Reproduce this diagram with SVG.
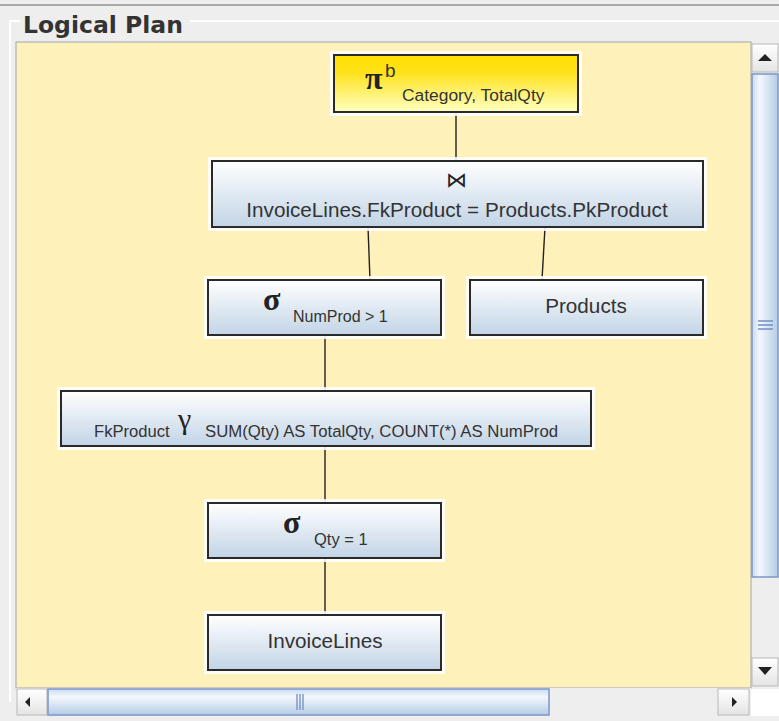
<svg xmlns="http://www.w3.org/2000/svg" width="779" height="721" viewBox="0 0 779 721">
<defs>
<linearGradient id="gBlue" x1="0" y1="0" x2="0" y2="1">
<stop offset="0" stop-color="#ffffff"/>
<stop offset="1" stop-color="#c2d4e6"/>
</linearGradient>
<linearGradient id="gYel" x1="0" y1="0" x2="0" y2="1">
<stop offset="0" stop-color="#ffe100"/>
<stop offset="0.3" stop-color="#ffe21a"/>
<stop offset="1" stop-color="#ffffc4"/>
</linearGradient>
<linearGradient id="gVThumb" x1="0" y1="0" x2="1" y2="0">
<stop offset="0" stop-color="#c8daf0"/>
<stop offset="0.3" stop-color="#f4f8fc"/>
<stop offset="1" stop-color="#b4cce6"/>
</linearGradient>
<linearGradient id="gHThumb" x1="0" y1="0" x2="0" y2="1">
<stop offset="0" stop-color="#c8daf0"/>
<stop offset="0.3" stop-color="#f4f8fc"/>
<stop offset="1" stop-color="#b4cce6"/>
</linearGradient>
<linearGradient id="gBtn" x1="0" y1="0" x2="0" y2="1">
<stop offset="0" stop-color="#ffffff"/>
<stop offset="1" stop-color="#e4e4e4"/>
</linearGradient>
</defs>
<style>
.node{fill:url(#gBlue);stroke:#2a2a2a;stroke-width:2}
.halo{fill:#ffffff;opacity:0.85}
.t{font-family:"Liberation Sans",Arial,sans-serif;fill:#333333}
.g{font-family:"Liberation Serif","DejaVu Serif",serif;fill:#222222}
.edge{stroke:#222222;stroke-width:1.4;fill:none}
</style>
<rect x="0" y="0" width="779" height="721" fill="#eeeeee"/>
<line x1="0" y1="5" x2="779" y2="5" stroke="#a8a8a8" stroke-width="2"/>
<path d="M10 702 V21 H20 M190 21 H779" stroke="#ffffff" stroke-width="2" fill="none"/>
<text x="23" y="33" font-family="'DejaVu Sans',sans-serif" font-weight="bold" font-size="23.5" fill="#333333">Logical Plan</text>
<rect x="16" y="42" width="735" height="646" fill="#fef1b9" stroke="#9aa6b8" stroke-width="1"/>
<g id="connectors">
<line class="edge" x1="456" y1="112" x2="456" y2="161"/>
<line class="edge" x1="368" y1="227" x2="370" y2="280"/>
<line class="edge" x1="545" y1="227" x2="542" y2="280"/>
<line class="edge" x1="325" y1="335" x2="325" y2="391"/>
<line class="edge" x1="325" y1="446" x2="325" y2="503"/>
<line class="edge" x1="325" y1="558" x2="325" y2="615"/>
</g>
<g id="project">
<rect class="halo" x="330" y="51" width="252" height="65"/>
<rect x="334" y="55" width="244" height="57" fill="url(#gYel)" stroke="#2a2a2a" stroke-width="2"/>
<text class="g" x="365" y="89" font-size="32" font-weight="bold">π</text>
<text class="t" x="385" y="77" font-size="19">b</text>
<text class="t" x="402" y="101" font-size="17.4">Category, TotalQty</text>
</g>
<g id="join">
<rect class="halo" x="208" y="157" width="499" height="74"/>
<rect class="node" x="212" y="161" width="491" height="66"/>
<text class="g" x="456" y="187" font-size="21" text-anchor="middle">⋈</text>
<text class="t" x="457" y="217" font-size="20.7" text-anchor="middle">InvoiceLines.FkProduct = Products.PkProduct</text>
</g>
<g id="selectNumProd">
<rect class="halo" x="204" y="276" width="241" height="63"/>
<rect class="node" x="208" y="280" width="233" height="55"/>
<text class="g" x="263" y="310" font-size="32" font-weight="bold">σ</text>
<text class="t" x="293" y="322" font-size="16">NumProd &gt; 1</text>
</g>
<g id="products">
<rect class="halo" x="466" y="276" width="241" height="63"/>
<rect class="node" x="470" y="280" width="233" height="55"/>
<text class="t" x="586" y="313" font-size="20.7" text-anchor="middle">Products</text>
</g>
<g id="groupby">
<rect class="halo" x="57" y="387" width="538" height="63"/>
<rect class="node" x="61" y="391" width="530" height="55"/>
<text class="t" x="94" y="437" font-size="16.6">FkProduct</text>
<text class="g" x="178" y="429" font-size="30">γ</text>
<text class="t" x="205" y="437" font-size="16.75">SUM(Qty) AS TotalQty, COUNT(*) AS NumProd</text>
</g>
<g id="selectQty">
<rect class="halo" x="204" y="499" width="241" height="63"/>
<rect class="node" x="208" y="503" width="233" height="55"/>
<text class="g" x="283" y="533" font-size="32" font-weight="bold">σ</text>
<text class="t" x="314" y="545" font-size="16.5">Qty = 1</text>
</g>
<g id="invoiceLines">
<rect class="halo" x="204" y="611" width="241" height="63"/>
<rect class="node" x="208" y="615" width="233" height="55"/>
<text class="t" x="325" y="648" font-size="20.7" text-anchor="middle">InvoiceLines</text>
</g>
<rect x="752" y="43" width="27" height="645" fill="#eeeeee"/>
<rect x="752" y="44" width="26" height="28" fill="url(#gBtn)" stroke="#b8b8b8" stroke-width="1"/>
<path d="M758 61 L765 54 L772 61 Z" fill="#222222"/>
<rect x="752" y="74" width="26" height="503" fill="url(#gVThumb)" stroke="#7b97c8" stroke-width="1.5"/>
<path d="M758 321 H773 M758 325 H773 M758 329 H773" stroke="#6f8fc4" stroke-width="1.5"/>
<rect x="752" y="658" width="26" height="28" fill="url(#gBtn)" stroke="#b8b8b8" stroke-width="1"/>
<path d="M758 667 L772 667 L765 675 Z" fill="#222222"/>
<rect x="16" y="688" width="735" height="28" fill="#eeeeee"/>
<rect x="17" y="689" width="30" height="26" fill="url(#gBtn)" stroke="#b8b8b8" stroke-width="1"/>
<path d="M25 702 L30 697 L30 707 Z" fill="#222222"/>
<rect x="48" y="689" width="501" height="26" fill="url(#gHThumb)" stroke="#7b97c8" stroke-width="1.5"/>
<path d="M297 694 V710 M300 694 V710 M303 694 V710" stroke="#6f8fc4" stroke-width="1.3"/>
<rect x="718" y="689" width="31" height="26" fill="url(#gBtn)" stroke="#b8b8b8" stroke-width="1"/>
<path d="M737 702 L732 697 L732 707 Z" fill="#222222"/>
<rect x="751" y="689" width="28" height="27" fill="#ffffff"/>
</svg>
